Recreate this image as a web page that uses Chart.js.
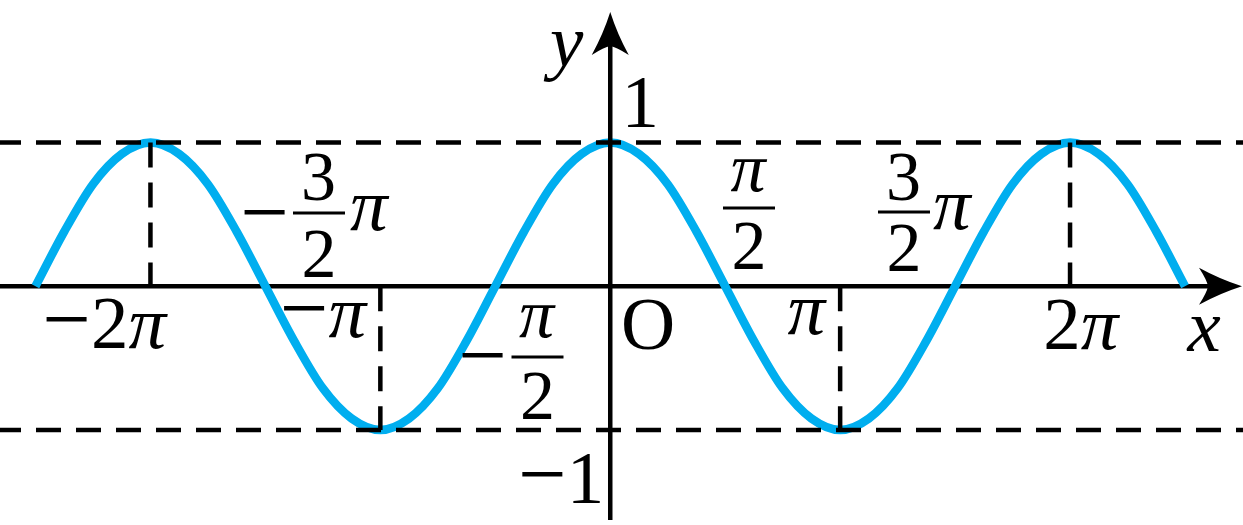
<!DOCTYPE html>
<html><head><meta charset="utf-8">
<script src="https://cdn.jsdelivr.net/npm/chart.js@4/dist/chart.umd.min.js"></script>
<style>html,body{margin:0;padding:0;background:#fff;overflow:hidden}#c{display:block}</style>
</head><body>
<canvas id="c" width="1243" height="525"></canvas>
<script>
// ---------- data (x in units of π) ----------
const curveX = [-2.5,-2.375,-2.25,-2.125,-2,-1.875,-1.75,-1.625,-1.5,-1.375,-1.25,-1.125,-1,-0.875,-0.75,-0.625,-0.5,-0.375,-0.25,-0.125,0,0.125,0.25,0.375,0.5,0.625,0.75,0.875,1,1.125,1.25,1.375,1.5,1.625,1.75,1.875,2,2.125,2.25,2.375,2.5];
const curveY = [0,0.38,0.71,0.92,1,0.92,0.71,0.38,0,-0.38,-0.71,-0.92,-1,-0.92,-0.71,-0.38,0,0.38,0.71,0.92,1,0.92,0.71,0.38,0,-0.38,-0.71,-0.92,-1,-0.92,-0.71,-0.38,0,0.38,0.71,0.92,1,0.92,0.71,0.38,0];
const guideLevels = [1, -1];
const peakX = [-2, 2];
const troughX = [-1, 1];
const xTickValues = [-2, -1, 1, 2];
const xTickLabels = [[['−',0,1.15],['2',0],['π',1]], [['−',0,1.15],['π',1]], [['π',1]], [['2',0],['π',1]]];
const fracValues = [-1.5, -0.5, 0.5, 1.5];
const fracLabels = [
  {pre:'−', num:['3',0], den:['2',0], post:'π'},
  {pre:'−', num:['π',1], den:['2',0], post:''},
  {pre:'',  num:['π',1], den:['2',0], post:''},
  {pre:'',  num:['3',0], den:['2',0], post:'π'}
];
const yTickValues = [1, -1];
const yTickLabels = [[['1',0]], [['−',0,1.15],['1',0]]];
const xAxisName = 'x', yAxisName = 'y', originLabel = 'O';

// ---------- view ----------
const X_MIN = -2.6544, X_MAX = 2.7523, Y_MIN = -1.6609, Y_MAX = 1.9913;
const FONT = '"Liberation Serif", "Times New Roman", serif';
const MAIN = 75, FRAC = 70;

function fontOf(p, size) { return (p[1] ? 'italic ' : '') + Math.round(size * (p[2] || 1)) + 'px ' + FONT; }
function drawInk(ctx, parts, size, cx, cy) {
  const ms = parts.map(p => { ctx.font = fontOf(p, size); return ctx.measureText(p[0]); });
  let pen = 0, left = 0, right = 0, asc = -1e9, desc = -1e9;
  ms.forEach((m, i) => {
    if (i === 0) left = pen - m.actualBoundingBoxLeft;
    right = pen + m.actualBoundingBoxRight;
    asc = Math.max(asc, m.actualBoundingBoxAscent);
    desc = Math.max(desc, m.actualBoundingBoxDescent);
    pen += m.width;
  });
  const x0 = cx - (left + right) / 2;
  const base = cy + (asc - desc) / 2;
  pen = x0;
  parts.forEach((p, i) => {
    ctx.font = fontOf(p, size);
    ctx.fillText(p[0], pen, base);
    pen += ms[i].width;
  });
}

// label layout: offsets (px) of ink centres from their scale anchors
const xTickOffsets = [[-43, 37], [-54, 34], [-32.6, 31], [13.5, 38.5]];
const fracLayout = [
  {bar:[53.6,-73.3], num:-35.5, den:40.5, pre:[-0.4,-73.3], post:[104.6,-72.3]},
  {bar:[42.2, 70.8], num:-35.5, den:38,   pre:[-12.3, 68.8], post:null},
  {bar:[23.8,-78.3], num:-32.5, den:38,   pre:null, post:null},
  {bar:[-51.1,-74.3], num:-34.5, den:36,  pre:null, post:[-2.1,-73.8]}
];

const deco = {
  id: 'deco',
  beforeDatasetsDraw(chart) {
    const {ctx, scales: {x, y}} = chart;
    const oy = y.getPixelForValue(0);
    ctx.save();
    ctx.strokeStyle = '#000'; ctx.lineWidth = 4.5;
    ctx.beginPath(); ctx.moveTo(0, oy); ctx.lineTo(chart.width - 30, oy); ctx.stroke();
    ctx.restore();
  },
  afterDatasetsDraw(chart) {
    const {ctx, scales: {x, y}} = chart;
    const ox = x.getPixelForValue(0), oy = y.getPixelForValue(0);
    ctx.save();
    ctx.strokeStyle = '#000'; ctx.fillStyle = '#000'; ctx.lineWidth = 4.5;
    // y axis
    ctx.beginPath(); ctx.moveTo(ox, chart.height - 5); ctx.lineTo(ox, 40); ctx.stroke();
    // y arrow head
    const ty = 12, L = 43, H = 18.5, N = 9;
    ctx.beginPath();
    ctx.moveTo(ox, ty);
    ctx.quadraticCurveTo(ox - 7, ty + 22, ox - H, ty + L);
    ctx.quadraticCurveTo(ox - 6, ty + L - N + 1, ox, ty + L - N);
    ctx.quadraticCurveTo(ox + 6, ty + L - N + 1, ox + H, ty + L);
    ctx.quadraticCurveTo(ox + 7, ty + 22, ox, ty);
    ctx.fill();
    // x arrow head
    const tx = chart.width - 1;
    ctx.beginPath();
    ctx.moveTo(tx, oy);
    ctx.quadraticCurveTo(tx - 22, oy - 7, tx - L, oy - H);
    ctx.quadraticCurveTo(tx - L + N - 1, oy - 6, tx - L + N, oy);
    ctx.quadraticCurveTo(tx - L + N - 1, oy + 6, tx - L, oy + H);
    ctx.quadraticCurveTo(tx - 22, oy + 7, tx, oy);
    ctx.fill();

    // tick labels on x axis
    xTickValues.forEach((v, i) => {
      const [dx, dy] = xTickOffsets[i];
      drawInk(ctx, xTickLabels[i], MAIN, x.getPixelForValue(v) + dx, oy + dy);
    });
    // origin
    drawInk(ctx, [[originLabel, 0]], MAIN, ox + 38.3, oy + 38.5);
    // axis names
    drawInk(ctx, [[xAxisName, 1]], MAIN, x.getPixelForValue(2.5) + 18.6, oy + 47.3);
    drawInk(ctx, [[yAxisName, 1]], MAIN, ox - 46.8, oy - 228.8);
    // y tick labels
    drawInk(ctx, yTickLabels[0], MAIN, ox + 30.8, y.getPixelForValue(yTickValues[0]) - 40);
    drawInk(ctx, yTickLabels[1], MAIN, ox - 49.3, y.getPixelForValue(yTickValues[1]) + 48.5);

    // fractions
    fracValues.forEach((v, i) => {
      const f = fracLabels[i], L2 = fracLayout[i];
      const ax = x.getPixelForValue(v);
      const bx = ax + L2.bar[0], by = oy + L2.bar[1];
      ctx.lineWidth = 3;
      ctx.beginPath(); ctx.moveTo(bx - 26, by); ctx.lineTo(bx + 26, by); ctx.stroke();
      drawInk(ctx, [f.num], FRAC, bx, by + L2.num);
      drawInk(ctx, [f.den], FRAC, bx, by + L2.den);
      if (f.pre && L2.pre) drawInk(ctx, [[f.pre, 0, 1.15]], MAIN, ax + L2.pre[0], oy + L2.pre[1]);
      if (f.post && L2.post) drawInk(ctx, [[f.post, 1]], MAIN, ax + L2.post[0], oy + L2.post[1]);
    });
    ctx.restore();
  }
};

const dashStyle = {borderColor: '#000', borderWidth: 4.5, borderDash: [25, 15], pointRadius: 0, order: 0, tension: 0};
const datasets = [
  {data: curveX.map((v, i) => ({x: v, y: curveY[i]})), borderColor: '#00AEEF', borderWidth: 8.5,
   cubicInterpolationMode: 'monotone', pointRadius: 0, order: 1, borderCapStyle: 'butt'}
];
guideLevels.forEach(l => datasets.push(Object.assign({}, dashStyle, {borderDashOffset: 4,
  data: [{x: X_MIN, y: l}, {x: X_MAX, y: l}]})));
peakX.forEach(p => datasets.push(Object.assign({}, dashStyle, {data: [{x: p, y: 1}, {x: p, y: 0}]})));
troughX.forEach(t => datasets.push(Object.assign({}, dashStyle, {data: [{x: t, y: 0}, {x: t, y: -1}]})));

new Chart(document.getElementById('c'), {
  type: 'line',
  data: {datasets},
  options: {
    responsive: false, animation: false, events: [],
    layout: {padding: 0},
    scales: {
      x: {type: 'linear', min: X_MIN, max: X_MAX, display: false},
      y: {type: 'linear', min: Y_MIN, max: Y_MAX, display: false}
    },
    plugins: {legend: {display: false}, tooltip: {enabled: false}}
  },
  plugins: [deco]
});
</script>
</body></html>
